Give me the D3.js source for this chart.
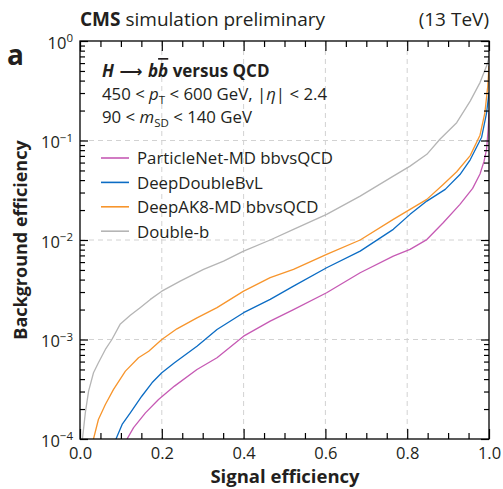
<!DOCTYPE html>
<html><head><meta charset="utf-8">
<script src="https://cdn.jsdelivr.net/npm/d3@7"></script>
<style>
html,body{margin:0;padding:0;background:#fff;}
svg{display:block;font-family:"Open Sans",sans-serif;}
</style></head><body>
<svg id="chart" width="503" height="489"></svg>
<script>
// ROC curves as [signal efficiency, background efficiency]
const particleNetMD = [
  [0.115,1.0e-4],[0.131,1.30e-4],[0.160,1.83e-4],[0.192,2.49e-4],[0.231,3.40e-4],
  [0.286,5.0e-4],[0.335,6.55e-4],[0.400,1.08e-3],[0.465,1.53e-3],[0.522,2.0e-3],
  [0.603,2.95e-3],[0.685,4.69e-3],[0.766,6.89e-3],[0.807,8.04e-3],[0.848,1.01e-2],
  [0.888,1.49e-2],[0.929,2.28e-2],[0.960,3.30e-2],[0.978,4.6e-2],[0.988,6.2e-2],
  [0.994,8.15e-2],[0.998,0.129],[1.0,0.192]
];
const deepDoubleBvL = [
  [0.088,1.0e-4],[0.103,1.40e-4],[0.123,1.83e-4],[0.151,2.69e-4],[0.176,3.67e-4],
  [0.200,4.63e-4],[0.231,5.84e-4],[0.286,8.57e-4],[0.335,1.26e-3],[0.400,1.86e-3],
  [0.465,2.53e-3],[0.522,3.44e-3],[0.603,5.26e-3],[0.685,7.73e-3],[0.766,1.28e-2],
  [0.807,1.81e-2],[0.848,2.46e-2],[0.893,3.23e-2],[0.929,4.55e-2],[0.954,6.4e-2],
  [0.982,0.108],[0.994,0.188],[1.0,0.305]
];
const deepAK8MD = [
  [0.033,1.0e-4],[0.045,1.57e-4],[0.062,2.22e-4],[0.082,3.15e-4],[0.111,4.81e-4],
  [0.143,6.55e-4],[0.168,7.63e-4],[0.200,1.0e-3],[0.237,1.28e-3],[0.286,1.65e-3],
  [0.335,2.09e-3],[0.400,3.06e-3],[0.465,4.18e-3],[0.522,5.06e-3],[0.603,7.16e-3],
  [0.685,1.0e-2],[0.766,1.61e-2],[0.807,2.03e-2],[0.848,2.56e-2],[0.888,3.62e-2],
  [0.921,4.85e-2],[0.954,7.05e-2],[0.978,0.113],[0.990,0.191],[0.997,0.353],[1.0,0.56]
];
const doubleB = [
  [0.006,1.0e-4],[0.013,1.83e-4],[0.021,3.03e-4],[0.033,4.63e-4],[0.045,5.84e-4],
  [0.062,7.94e-4],[0.078,1.0e-3],[0.098,1.42e-3],[0.123,1.75e-3],[0.147,2.09e-3],
  [0.172,2.53e-3],[0.200,3.06e-3],[0.245,3.86e-3],[0.302,5.06e-3],[0.351,6.14e-3],
  [0.400,7.73e-3],[0.465,1.0e-2],[0.522,1.28e-2],[0.603,1.81e-2],[0.685,2.76e-2],
  [0.766,4.39e-2],[0.807,5.53e-2],[0.848,7.26e-2],[0.880,0.103],[0.921,0.151],
  [0.954,0.249],[0.978,0.382],[0.994,0.561],[1.0,0.68]
];
const seriesNames = ["ParticleNet-MD bbvsQCD", "DeepDoubleBvL", "DeepAK8-MD bbvsQCD", "Double-b"];
const seriesData = [particleNetMD, deepDoubleBvL, deepAK8MD, doubleB];
const seriesColors = ["#c65ab4", "#0b6cc4", "#f7952c", "#b5b5b5"];
const xMajorTicks = [0, 0.2, 0.4, 0.6, 0.8, 1.0];
const xMinorTicks = d3.range(0.05, 1.0, 0.05).filter(v => Math.abs(v * 5 - Math.round(v * 5)) > 1e-6);
const yMajorTicks = [1e-4, 1e-3, 1e-2, 1e-1, 1];
const yExponents = ["\u22124", "\u22123", "\u22122", "\u22121", "0"];
const xGrid = [0.2, 0.4, 0.6, 0.8];
const yGrid = [1e-3, 1e-2, 1e-1];

const svg = d3.select("#chart");
const plotL = 80, plotR = 489, plotT = 41, plotB = 439;
const x = d3.scaleLinear().domain([0, 1]).range([plotL, plotR]);
const y = d3.scaleLog().domain([1e-4, 1]).range([plotB, plotT]);
const yMinorTicks = [];
[1e-4, 1e-3, 1e-2, 1e-1].forEach(d => { for (let k = 2; k <= 9; k++) yMinorTicks.push(d * k); });
const ink = "#231f20";

// grid
const grid = svg.append("g").attr("stroke", "#d2d2d2").attr("stroke-width", 1).attr("stroke-dasharray", "5,4");
grid.selectAll("line.gx").data(xGrid).join("line").attr("class", "gx")
  .attr("x1", d => x(d)).attr("x2", d => x(d)).attr("y1", plotT).attr("y2", plotB);
grid.selectAll("line.gy").data(yGrid).join("line").attr("class", "gy")
  .attr("x1", plotL).attr("x2", plotR).attr("y1", d => y(d)).attr("y2", d => y(d));

// curves
svg.append("clipPath").attr("id", "plotClip").append("rect")
  .attr("x", plotL).attr("y", plotT).attr("width", plotR - plotL).attr("height", plotB - plotT);
const line = d3.line().x(d => x(d[0])).y(d => y(d[1]));
const order = [3, 2, 1, 0];
svg.append("g").attr("clip-path", "url(#plotClip)")
  .selectAll("path").data(order).join("path")
  .attr("d", i => line(seriesData[i]))
  .attr("fill", "none").attr("stroke", i => seriesColors[i]).attr("stroke-width", 1.3)
  .attr("stroke-linejoin", "round");

// axes with inward ticks
function styleAxis(g) {
  g.select(".domain").remove();
  g.selectAll(".tick line").attr("stroke", "#000").attr("stroke-width", 1.2);
}
svg.append("g").attr("transform", `translate(0,${plotB})`)
  .call(d3.axisBottom(x).tickValues(xMinorTicks).tickSize(-6).tickFormat("")).call(styleAxis);
svg.append("g").attr("transform", `translate(0,${plotT})`)
  .call(d3.axisTop(x).tickValues(xMinorTicks).tickSize(-6).tickFormat("")).call(styleAxis);
svg.append("g").attr("transform", `translate(0,${plotT})`)
  .call(d3.axisTop(x).tickValues(xMajorTicks).tickSize(-10).tickFormat("")).call(styleAxis);
const xAxis = svg.append("g").attr("transform", `translate(0,${plotB})`)
  .call(d3.axisBottom(x).tickValues(xMajorTicks).tickSize(-10).tickPadding(8.5).tickFormat(d3.format(".1f")))
  .call(styleAxis);
xAxis.selectAll("text").attr("font-size", 16.5).attr("font-family", "Open Sans, sans-serif").attr("fill", ink);

svg.append("g").attr("transform", `translate(${plotL},0)`)
  .call(d3.axisLeft(y).tickValues(yMinorTicks).tickSize(-5).tickFormat("")).call(styleAxis);
svg.append("g").attr("transform", `translate(${plotR},0)`)
  .call(d3.axisRight(y).tickValues(yMinorTicks).tickSize(-5).tickFormat("")).call(styleAxis);
svg.append("g").attr("transform", `translate(${plotR},0)`)
  .call(d3.axisRight(y).tickValues(yMajorTicks).tickSize(-8).tickFormat("")).call(styleAxis);
const yAxis = svg.append("g").attr("transform", `translate(${plotL},0)`)
  .call(d3.axisLeft(y).tickValues(yMajorTicks).tickSize(-8).tickFormat("")).call(styleAxis);
yAxis.selectAll(".tick").each(function (d, i) {
  const t = d3.select(this).append("text")
    .attr("x", -7).attr("y", 7).attr("text-anchor", "end")
    .attr("fill", ink).attr("font-size", 16.5).attr("font-family", "Open Sans, sans-serif");
  t.append("tspan").text("10");
  t.append("tspan").attr("dy", -6.5).attr("font-size", 11.5).text(yExponents[i]);
});

// frame
svg.append("rect").attr("x", plotL).attr("y", plotT).attr("width", plotR - plotL).attr("height", plotB - plotT)
  .attr("fill", "none").attr("stroke", "#000").attr("stroke-width", 1.3);

// header
const head = svg.append("text").attr("x", plotL).attr("y", 26).attr("font-size", 19).attr("fill", ink);
head.append("tspan").attr("font-weight", "bold").text("CMS");
head.append("tspan").text(" simulation preliminary");
svg.append("text").attr("x", plotR).attr("y", 26).attr("text-anchor", "end")
  .attr("font-size", 19).attr("fill", ink).text("(13 TeV)");
svg.append("text").attr("x", 7).attr("y", 65).attr("font-size", 28).attr("font-weight", "bold")
  .attr("fill", ink).text("a");

// axis titles
svg.append("text").attr("x", 285).attr("y", 483).attr("text-anchor", "middle")
  .attr("font-size", 18.5).attr("font-weight", "bold").attr("fill", ink).text("Signal efficiency");
svg.append("text").attr("transform", `translate(27,${(plotT + plotB) / 2}) rotate(-90)`)
  .attr("text-anchor", "middle").attr("font-size", 18).attr("font-weight", "bold")
  .attr("fill", ink).text("Background efficiency");

// selection annotation
const ann = svg.append("g").attr("fill", ink);
const l1 = ann.append("text").attr("x", 102).attr("y", 77).attr("font-size", 17).attr("font-weight", "bold");
l1.append("tspan").attr("font-style", "italic").text("H");
l1.append("tspan").attr("font-family", "DejaVu Sans, sans-serif").attr("font-size", 16).text(" \u27F6 ");
l1.append("tspan").attr("font-style", "italic").text("b");
l1.append("tspan").attr("font-style", "italic").attr("text-decoration", "overline").text("b");
l1.append("tspan").text(" versus QCD");
const l2 = ann.append("text").attr("x", 102).attr("y", 100).attr("font-size", 16.8);
l2.append("tspan").text("450 < ");
l2.append("tspan").attr("font-style", "italic").text("p");
l2.append("tspan").attr("font-size", 11.5).attr("dy", 4).text("T");
l2.append("tspan").attr("dy", -4).text(" < 600 GeV, |");
l2.append("tspan").attr("font-style", "italic").text("\u03b7");
l2.append("tspan").text("| < 2.4");
const l3 = ann.append("text").attr("x", 102).attr("y", 123).attr("font-size", 16.8);
l3.append("tspan").text("90 < ");
l3.append("tspan").attr("font-style", "italic").text("m");
l3.append("tspan").attr("font-size", 11.5).attr("dy", 4).text("SD");
l3.append("tspan").attr("dy", -4).text(" < 140 GeV");

// legend
const legend = svg.append("g").attr("transform", "translate(101,158)");
const items = legend.selectAll("g").data(seriesNames).join("g")
  .attr("transform", (d, i) => `translate(0,${i * 24.4})`);
items.append("line").attr("x1", 0).attr("x2", 28).attr("y1", 0).attr("y2", 0)
  .attr("stroke", (d, i) => seriesColors[i]).attr("stroke-width", 1.6);
items.append("text").attr("x", 36).attr("y", 6.3).attr("font-size", 16.8).attr("fill", ink).text(d => d);
</script>
</body></html>
